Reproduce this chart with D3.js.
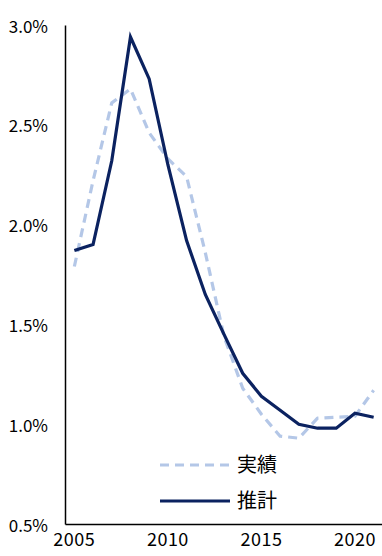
<!DOCTYPE html>
<html>
<head>
<meta charset="utf-8">
<script src="https://cdn.jsdelivr.net/npm/d3@7"></script>
<style>
  html, body { margin: 0; padding: 0; background: #fff; }
  svg { display: block; }
  text { font-family: "Noto Sans CJK JP", "Liberation Sans", sans-serif; fill: #000; }
</style>
</head>
<body>
<svg id="chart" width="382" height="556"></svg>
<script>
// Years on the horizontal axis
const years = [2005, 2006, 2007, 2008, 2009, 2010, 2011, 2012, 2013,
               2014, 2015, 2016, 2017, 2018, 2019, 2020, 2021];
// Actual rate (%)
const actual = [1.79, 2.22, 2.61, 2.68, 2.46, 2.33, 2.24, 1.86, 1.44,
                1.18, 1.05, 0.94, 0.93, 1.03, 1.035, 1.04, 1.17];
// Estimated rate (%)
const estimate = [1.87, 1.90, 2.32, 2.94, 2.73, 2.30, 1.92, 1.65, 1.45,
                  1.255, 1.14, 1.07, 1.00, 0.98, 0.98, 1.055, 1.035];
// Axis tick labels
const yTicks = [0.5, 1.0, 1.5, 2.0, 2.5, 3.0];
const xTicks = [2005, 2010, 2015, 2020];
// Legend entries
const seriesNames = ["実績", "推計"];

const svg = d3.select("#chart");
const plot = { left: 65, right: 383, top: 25, bottom: 524 };

const x = d3.scaleBand().domain(years).range([plot.left, plot.right]).padding(0);
const y = d3.scaleLinear().domain([0.5, 3.0]).range([plot.bottom, plot.top]);
const cx = d => x(d) + x.bandwidth() / 2;

// Y axis
const yAxis = svg.append("g")
  .attr("transform", `translate(${plot.left},0)`)
  .call(d3.axisLeft(y).tickValues(yTicks).tickSize(0).tickPadding(17)
        .tickFormat(d => d.toFixed(1) + "%"));
yAxis.select(".domain").attr("stroke", "#000").attr("stroke-width", 1.5);
yAxis.selectAll("text").style("font-size", "17px").attr("dy", "0.42em");

// X axis
const xAxis = svg.append("g")
  .attr("transform", `translate(0,${plot.bottom})`)
  .call(d3.axisBottom(x).tickValues(xTicks).tickSize(0).tickPadding(10));
xAxis.select(".domain").attr("stroke", "#000").attr("stroke-width", 1.5);
xAxis.selectAll("text")
  .style("font-size", "18px")
  .style("letter-spacing", "0.5px")
  .attr("dy", "0.66em");

const line = d3.line().x((d, i) => cx(years[i])).y(d => y(d));

svg.append("path")
  .datum(actual)
  .attr("fill", "none")
  .attr("stroke", "#b4c7e7")
  .attr("stroke-width", 3.2)
  .attr("stroke-dasharray", "9,6")
  .attr("stroke-linejoin", "round")
  .attr("d", line);

svg.append("path")
  .datum(estimate)
  .attr("fill", "none")
  .attr("stroke", "#0b2260")
  .attr("stroke-width", 3.2)
  .attr("stroke-linejoin", "miter")
  .attr("d", line);

// Legend
const legend = svg.append("g");
const legendRows = [
  { name: seriesNames[0], color: "#b4c7e7", dash: "9,6", y: 465 },
  { name: seriesNames[1], color: "#0b2260", dash: null, y: 501 }
];
legendRows.forEach(r => {
  legend.append("line")
    .attr("x1", 160).attr("x2", 230).attr("y1", r.y).attr("y2", r.y)
    .attr("stroke", r.color).attr("stroke-width", 3.2)
    .attr("stroke-dasharray", r.dash);
  legend.append("text")
    .attr("x", 237).attr("y", r.y).attr("dy", "0.36em")
    .style("font-size", "20px")
    .text(r.name);
});
</script>
</body>
</html>
